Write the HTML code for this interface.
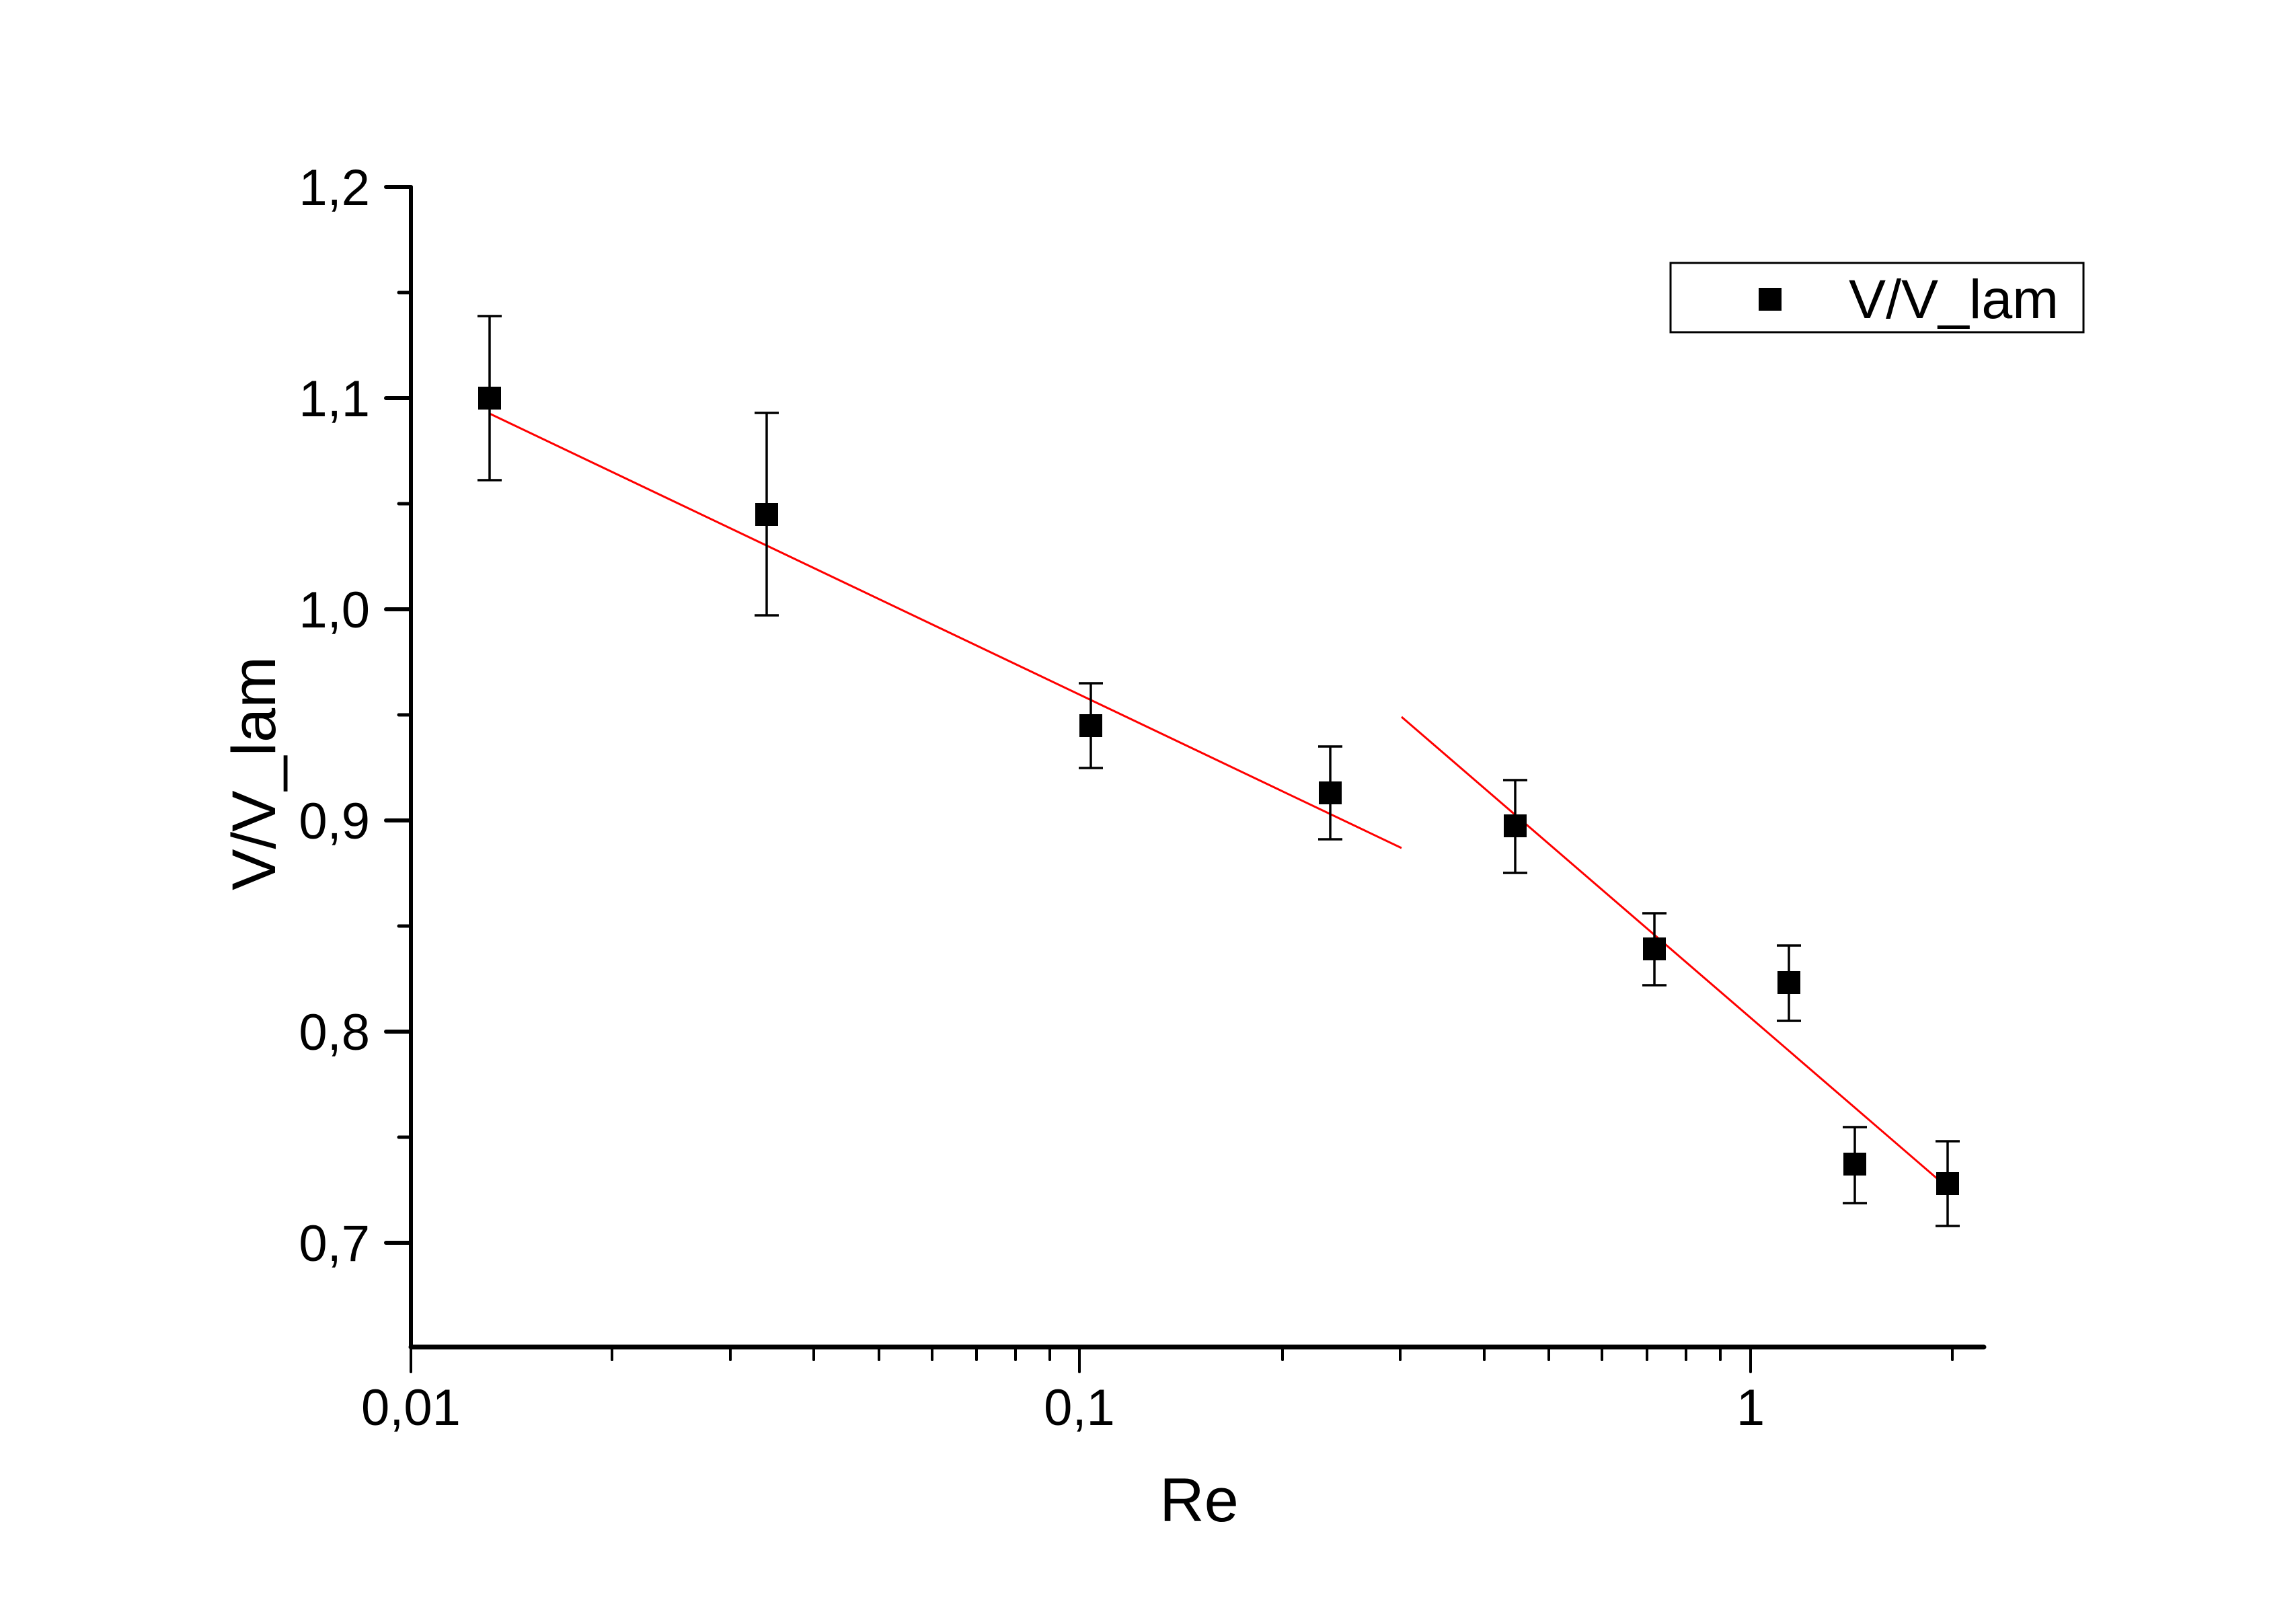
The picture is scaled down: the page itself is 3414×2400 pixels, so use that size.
<!DOCTYPE html>
<html><head><meta charset="utf-8"><style>
html,body{margin:0;padding:0;background:#fff;}
svg{display:block;}
text{font-family:"Liberation Sans",Arial,sans-serif;fill:#000;}
</style></head><body>
<svg width="3414" height="2400" viewBox="0 0 3414 2400" xmlns="http://www.w3.org/2000/svg">
<rect width="3414" height="2400" fill="#fff"/>
<!-- axes -->
<g stroke="#000" stroke-linecap="round" fill="none">
<line x1="611" y1="278" x2="611" y2="2003" stroke-width="6"/>
<line x1="611" y1="2003" x2="2950" y2="2003" stroke-width="7"/>
<!-- y major ticks -->
<g stroke-width="6">
<line x1="574" y1="278" x2="611" y2="278"/>
<line x1="574" y1="592" x2="611" y2="592"/>
<line x1="574" y1="906" x2="611" y2="906"/>
<line x1="574" y1="1220" x2="611" y2="1220"/>
<line x1="574" y1="1534" x2="611" y2="1534"/>
<line x1="574" y1="1848" x2="611" y2="1848"/>
</g>
<g stroke-width="5">
<line x1="593" y1="435" x2="611" y2="435"/>
<line x1="593" y1="749" x2="611" y2="749"/>
<line x1="593" y1="1063" x2="611" y2="1063"/>
<line x1="593" y1="1377" x2="611" y2="1377"/>
<line x1="593" y1="1691" x2="611" y2="1691"/>
</g>
<!-- x ticks -->
<g stroke-width="4">
<line x1="611" y1="2003" x2="611" y2="2040"/>
<line x1="1605" y1="2003" x2="1605" y2="2040"/>
<line x1="2603" y1="2003" x2="2603" y2="2040"/>
<line x1="910" y1="2003" x2="910" y2="2022"/>
<line x1="1086" y1="2003" x2="1086" y2="2022"/>
<line x1="1210" y1="2003" x2="1210" y2="2022"/>
<line x1="1307" y1="2003" x2="1307" y2="2022"/>
<line x1="1386" y1="2003" x2="1386" y2="2022"/>
<line x1="1452" y1="2003" x2="1452" y2="2022"/>
<line x1="1510" y1="2003" x2="1510" y2="2022"/>
<line x1="1561" y1="2003" x2="1561" y2="2022"/>
<line x1="1907" y1="2003" x2="1907" y2="2022"/>
<line x1="2082" y1="2003" x2="2082" y2="2022"/>
<line x1="2207" y1="2003" x2="2207" y2="2022"/>
<line x1="2303" y1="2003" x2="2303" y2="2022"/>
<line x1="2382" y1="2003" x2="2382" y2="2022"/>
<line x1="2449" y1="2003" x2="2449" y2="2022"/>
<line x1="2507" y1="2003" x2="2507" y2="2022"/>
<line x1="2558" y1="2003" x2="2558" y2="2022"/>
<line x1="2903" y1="2003" x2="2903" y2="2022"/>
</g>
</g>
<!-- y tick labels -->
<g font-size="76" text-anchor="end">
<text x="550" y="305">1,2</text>
<text x="550" y="619">1,1</text>
<text x="550" y="933">1,0</text>
<text x="550" y="1247">0,9</text>
<text x="550" y="1561">0,8</text>
<text x="550" y="1875">0,7</text>
</g>
<g font-size="76" text-anchor="middle">
<text x="611" y="2119">0,01</text>
<text x="1605" y="2119">0,1</text>
<text x="2603" y="2119">1</text>
</g>
<text x="1783" y="2262" font-size="92" text-anchor="middle">Re</text>
<text transform="translate(409,1150) rotate(-90)" font-size="92" text-anchor="middle">V/V_lam</text>
<!-- fit lines -->
<g stroke="#f00" stroke-width="3" fill="none">
<line x1="728" y1="615" x2="2084" y2="1261"/>
<line x1="2084" y1="1066" x2="2896" y2="1766"/>
</g>
<!-- error bars -->
<g stroke="#000" stroke-width="3.5" fill="none">
<path d="M728 470V714M710 470H746M710 714H746"/>
<path d="M1140 614V915M1122 614H1158M1122 915H1158"/>
<path d="M1622 1016V1142M1604 1016H1640M1604 1142H1640"/>
<path d="M1978 1110V1248M1960 1110H1996M1960 1248H1996"/>
<path d="M2253 1160V1298M2235 1160H2271M2235 1298H2271"/>
<path d="M2460 1358V1465M2442 1358H2478M2442 1465H2478"/>
<path d="M2660 1406V1518M2642 1406H2678M2642 1518H2678"/>
<path d="M2758 1676V1789M2740 1676H2776M2740 1789H2776"/>
<path d="M2896 1697V1823M2878 1697H2914M2878 1823H2914"/>
</g>
<!-- markers -->
<g fill="#000">
<rect x="711" y="575" width="34" height="34"/>
<rect x="1123" y="748" width="34" height="34"/>
<rect x="1605" y="1062" width="34" height="34"/>
<rect x="1961" y="1162" width="34" height="34"/>
<rect x="2236" y="1211" width="34" height="34"/>
<rect x="2443" y="1394" width="34" height="34"/>
<rect x="2643" y="1444" width="34" height="34"/>
<rect x="2741" y="1714" width="34" height="34"/>
<rect x="2879" y="1743" width="34" height="34"/>
</g>
<!-- legend -->
<rect x="2484" y="391" width="614" height="103" fill="#fff" stroke="#000" stroke-width="3"/>
<rect x="2615" y="428" width="34" height="34" fill="#000"/>
<text x="2749" y="473" font-size="82" textLength="312" lengthAdjust="spacingAndGlyphs">V/V_lam</text>
</svg>
</body></html>
